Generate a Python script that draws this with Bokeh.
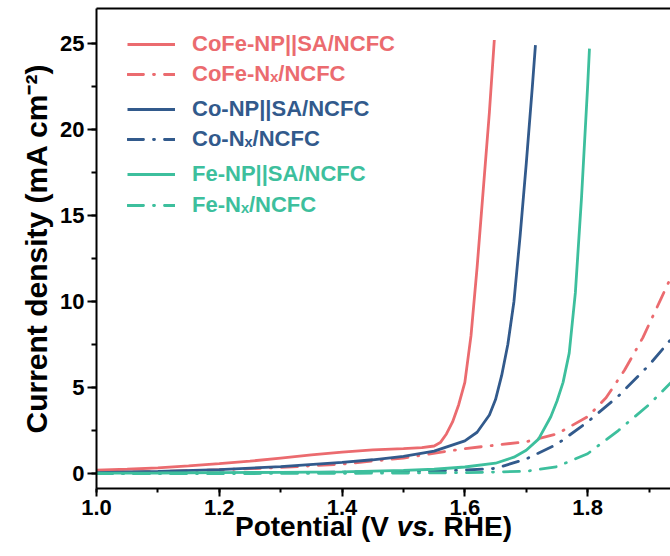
from bokeh.plotting import figure
from bokeh.layouts import column
from bokeh.models import (Legend, LegendItem, LinearAxis, FixedTicker, Div,
                          Range1d, SingleIntervalTicker, NumeralTickFormatter)
from bokeh.embed import file_html
from bokeh.resources import INLINE

# ---------------- data ----------------
cofe_np_x = [1.0, 1.05, 1.1, 1.15, 1.2, 1.25, 1.3, 1.35, 1.4, 1.45, 1.5, 1.53, 1.55, 1.56,
             1.57, 1.58, 1.59, 1.6, 1.61, 1.62, 1.63, 1.64, 1.648]
cofe_np_y = [0.2, 0.25, 0.33, 0.45, 0.58, 0.72, 0.9, 1.08, 1.25, 1.38, 1.45, 1.5, 1.6, 1.8,
             2.3, 3.0, 4.0, 5.3, 8.0, 12.0, 16.5, 21.0, 25.2]

cofe_nx_x = [1.0, 1.1, 1.2, 1.3, 1.4, 1.5, 1.6, 1.65, 1.7, 1.75, 1.8, 1.83, 1.86, 1.89, 1.92, 1.95]
cofe_nx_y = [0.05, 0.12, 0.22, 0.35, 0.55, 0.9, 1.45, 1.65, 1.85, 2.3, 3.3, 4.4, 6.0, 7.9, 10.2, 12.5]

co_np_x = [1.0, 1.1, 1.2, 1.3, 1.4, 1.45, 1.5, 1.55, 1.6, 1.62, 1.64, 1.65, 1.66, 1.67, 1.68,
           1.69, 1.7, 1.71, 1.715]
co_np_y = [0.05, 0.12, 0.23, 0.4, 0.65, 0.8, 1.0, 1.3, 1.9, 2.4, 3.4, 4.3, 5.7, 7.5, 10.0,
           13.8, 18.0, 22.5, 24.9]

co_nx_x = [1.0, 1.2, 1.4, 1.5, 1.6, 1.65, 1.7, 1.75, 1.8, 1.85, 1.9, 1.95]
co_nx_y = [0.0, 0.03, 0.08, 0.12, 0.2, 0.3, 0.85, 1.7, 3.0, 4.5, 6.3, 8.4]

fe_np_x = [1.0, 1.1, 1.2, 1.3, 1.4, 1.5, 1.55, 1.6, 1.65, 1.68, 1.7, 1.72, 1.74, 1.75, 1.76,
           1.77, 1.78, 1.79, 1.8, 1.803]
fe_np_y = [0.02, 0.03, 0.05, 0.07, 0.1, 0.18, 0.25, 0.38, 0.6, 0.95, 1.35, 2.0, 3.3, 4.2, 5.3,
           7.0, 10.5, 16.0, 22.5, 24.7]

fe_nx_x = [1.0, 1.2, 1.4, 1.6, 1.7, 1.75, 1.8, 1.85, 1.9, 1.95]
fe_nx_y = [0.0, 0.0, 0.01, 0.05, 0.13, 0.4, 1.15, 2.5, 4.0, 5.8]

series_names = ["CoFe-NP||SA/NCFC", "CoFe-N\u2093/NCFC", "Co-NP||SA/NCFC",
                "Co-N\u2093/NCFC", "Fe-NP||SA/NCFC", "Fe-N\u2093/NCFC"]
series_x = [cofe_np_x, cofe_nx_x, co_np_x, co_nx_x, fe_np_x, fe_nx_x]
series_y = [cofe_np_y, cofe_nx_y, co_np_y, co_nx_y, fe_np_y, fe_nx_y]

x_label_html = "Potential (V <i>vs.</i> RHE)"
y_label = "Current density (mA cm\u207b\u00b2)"

RED, BLUE, TEAL = "#eb6b6f", "#325a8c", "#3dbf9d"
series_colors = [RED, RED, BLUE, BLUE, TEAL, TEAL]
series_dash = ["solid", "16 10 1 10", "solid", "16 10 1 10", "solid", "16 10 1 10"]

FONT = "Liberation Sans"

p = figure(width=670, height=524, output_backend="svg", toolbar_location=None,
           x_range=Range1d(1.0, 1.935), y_range=Range1d(-0.87, 27.03),
           min_border_left=96, min_border_right=0, min_border_top=8, min_border_bottom=36,
           margin=(0, 0, 0, 0))
p.outline_line_color = None
p.background_fill_color = "white"
p.border_fill_color = "white"
p.xgrid.visible = False
p.ygrid.visible = False

renderers = []
for xs, ys, c, d in zip(series_x, series_y, series_colors, series_dash):
    r = p.line(xs, ys, line_color=c, line_width=2.8, line_dash=d,
               line_cap="butt" if d == "solid" else "round")
    renderers.append(r)

# axes
xa = p.xaxis[0]
xa.ticker = SingleIntervalTicker(interval=0.2, num_minor_ticks=2)
xa.formatter = NumeralTickFormatter(format="0.0")
ya = p.yaxis[0]
ya.ticker = SingleIntervalTicker(interval=5, num_minor_ticks=2)

for ax in (xa, ya):
    ax.axis_line_width = 2
    ax.axis_line_color = "black"
    ax.major_tick_line_width = 2
    ax.minor_tick_line_width = 2
    ax.major_tick_line_color = "black"
    ax.minor_tick_line_color = "black"
    ax.major_tick_in = 0
    ax.minor_tick_in = 0
    ax.major_label_text_font = FONT
    ax.major_label_text_font_style = "bold"
    ax.major_label_text_font_size = "22px"
    ax.major_label_text_color = "black"
    ax.axis_label_text_font = FONT
    ax.axis_label_text_font_style = "bold"
    ax.axis_label_text_color = "black"

xa.major_tick_out = 8
xa.minor_tick_out = 4
xa.major_label_standoff = 3
ya.major_tick_out = 9
ya.minor_tick_out = 5
ya.major_label_standoff = 3
ya.axis_label = y_label
ya.axis_label_text_font_size = "30px"
ya.axis_label_standoff = 4

# top border line
top = LinearAxis(ticker=FixedTicker(ticks=[], minor_ticks=[]),
                 axis_line_width=2, axis_line_color="black",
                 major_tick_out=0, minor_tick_out=0, major_label_standoff=0,
                 major_label_text_font_size="0px")
p.add_layout(top, "above")

# legend: one per entry so each label has its own colour
row_centres = [47, 77, 112, 142, 177, 208]
frame_bottom = 488
for name, r, c, yc in zip(series_names, renderers, series_colors, row_centres):
    leg = Legend(items=[LegendItem(label=name, renderers=[r])],
                 location=(31, frame_bottom - yc - 10),
                 padding=0, margin=0, spacing=0,
                 glyph_width=48, glyph_height=20, label_height=20, label_standoff=17,
                 background_fill_alpha=0, border_line_color=None,
                 label_text_font=FONT, label_text_font_style="bold",
                 label_text_font_size="22px", label_text_color=c)
    p.add_layout(leg, "center")

# x-axis title (with italic "vs.") as real text below the plot
xlab = Div(text=('<div style="position:relative;top:-11px;left:235px;'
                 "font-family:'Liberation Sans';font-weight:bold;font-size:28px;"
                 'line-height:1;white-space:nowrap;color:black">'
                 + x_label_html + '</div>'),
           width=670, height=32, margin=(0, 0, 0, 0))

layout = column(p, xlab, spacing=0)
open("out.html", "w").write(file_html(layout, INLINE))
